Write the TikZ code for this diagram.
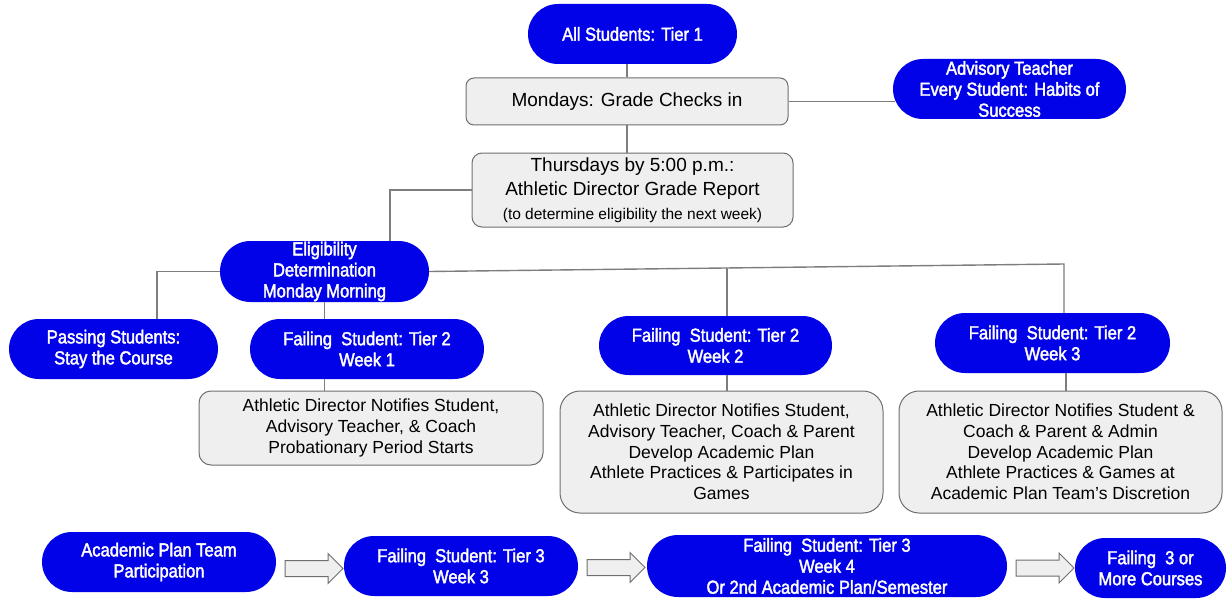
\documentclass[tikz,border=0pt]{standalone}
\usepackage{fontspec}
\setmainfont{Liberation Sans}
\newfontfamily\pillfont[FakeStretch=0.88,FakeBold=2]{Liberation Sans}
\usetikzlibrary{shapes.misc,shapes.arrows,calc}
\definecolor{pillblue}{RGB}{2,2,232}
\definecolor{boxgray}{RGB}{239,239,239}
\definecolor{edgegray}{RGB}{110,110,110}
\definecolor{linegray}{RGB}{125,125,125}
\tikzset{
 pill/.style={rounded rectangle, fill=pillblue, text=white, inner sep=0pt, align=center,
   font=\pillfont\fontsize{18.8}{21}\selectfont, minimum height=60pt},
 gbox/.style={rectangle, fill=boxgray, draw=edgegray, line width=1pt, align=center, inner sep=0pt,
   font=\fontsize{17.5}{20.7}\selectfont},
 conn/.style={draw=linegray, line width=1.4pt},
 barrow/.style={single arrow, draw=edgegray, fill=boxgray, line width=1pt, minimum height=58pt,
   inner xsep=0pt, inner ysep=7.5pt, single arrow head extend=7pt}
}
\begin{document}
\begin{tikzpicture}[x=1pt,y=-1pt]
\useasboundingbox (0,0) rectangle (1228,599);
\node[pill, minimum width=209pt] (all) at (632.5,34) {All Students: Tier 1};
\node[gbox, minimum width=322pt, minimum height=47pt, rounded corners=8pt, font=\fontsize{19}{24}\selectfont] (mon) at (627,101.5) {Mondays: Grade Checks in};
\node[pill, minimum width=233pt] (adv) at (1009.5,89) {Advisory Teacher\\Every Student: Habits of\\Success};
\node[gbox, minimum width=321pt, minimum height=74pt, rounded corners=10pt, font=\fontsize{19}{24}\selectfont] (thu) at (632.5,190) {Thursdays by 5:00 p.m.:\\Athletic Director Grade Report\\{\fontsize{15.5}{24}\selectfont (to determine eligibility the next week)}};
\node[pill, minimum width=209pt, minimum height=61pt] (elig) at (324.5,271.5) {Eligibility\\Determination\\Monday Morning};
\node[pill, minimum width=209pt] (pass) at (113.5,349) {Passing Students:\\Stay the Course};
\node[pill, minimum width=234pt] (w1) at (367,349) {Failing\ \ Student: Tier 2\\Week 1};
\node[gbox, minimum width=344pt, minimum height=74pt, rounded corners=12pt] (d1) at (371,428) {Athletic Director Notifies Student,\\Advisory Teacher, \& Coach\\Probationary Period Starts};
\node[pill, minimum width=233pt, minimum height=59pt] (w2) at (715.5,345.5) {Failing\ \ Student: Tier 2\\Week 2};
\node[gbox, minimum width=323pt, minimum height=122pt, rounded corners=20pt] (d2) at (721.5,452) {Athletic Director Notifies Student,\\Advisory Teacher, Coach \& Parent\\Develop Academic Plan\\Athlete Practices \& Participates in\\Games};
\node[pill, minimum width=235pt] (w3) at (1052.5,343) {Failing\ \ Student: Tier 2\\Week 3};
\node[gbox, minimum width=323pt, minimum height=122pt, rounded corners=20pt] (d3) at (1060.5,452) {Athletic Director Notifies Student \&\\Coach \& Parent \& Admin\\Develop Academic Plan\\Athlete Practices \& Games at\\Academic Plan Team's Discretion};
\node[pill, minimum width=234pt] (apt) at (159,562) {Academic Plan Team\\Participation};
\node[pill, minimum width=234pt] (t3a) at (461,566) {Failing\ \ Student: Tier 3\\Week 3};
\node[pill, minimum width=360pt, minimum height=62pt] (t3b) at (827,566) {Failing\ \ Student: Tier 3\\Week 4\\Or 2nd Academic Plan/Semester};
\node[pill, minimum width=151pt] (f3) at (1150.5,568) {Failing\ \ 3 or\\More Courses};
\node[barrow] (a1) at (310,568.5) {};
\node[barrow] (a2) at (612,567.5) {};
\node[barrow] (a3) at (1041,568) {};
\coordinate (c1) at (390,190);
\coordinate (c2) at (157,271.5);
\coordinate (j3) at (1064,264);
\coordinate (j2) at ($(elig.east)!0.469!(j3)$);
\draw[conn] (mon.north) -- (mon.north |- all.south);
\draw[conn] (mon.south) -- (mon.south |- thu.north);
\draw[conn] (mon.east) -- ($(mon.east -| adv.west)+(2.5,0)$);
\draw[conn] (thu.west) -- (c1) -- (c1 |- elig.north);
\draw[conn] (elig.west) -- (c2) -- (c2 |- pass.north);
\draw[conn] (elig.south) -- (elig.south |- w1.north);
\draw[conn] (elig.south |- w1.south) -- (elig.south |- d1.north);
\draw[conn] (elig.east) -- (j3) -- (j3 |- w3.north);
\draw[conn] (j2) -- (j2 |- w2.north);
\draw[conn] (j2 |- w2.south) -- (j2 |- d2.north);
\draw[conn] ([xshift=2pt]j3 |- w3.south) -- ([xshift=2pt]j3 |- d3.north);
\end{tikzpicture}
\end{document}
